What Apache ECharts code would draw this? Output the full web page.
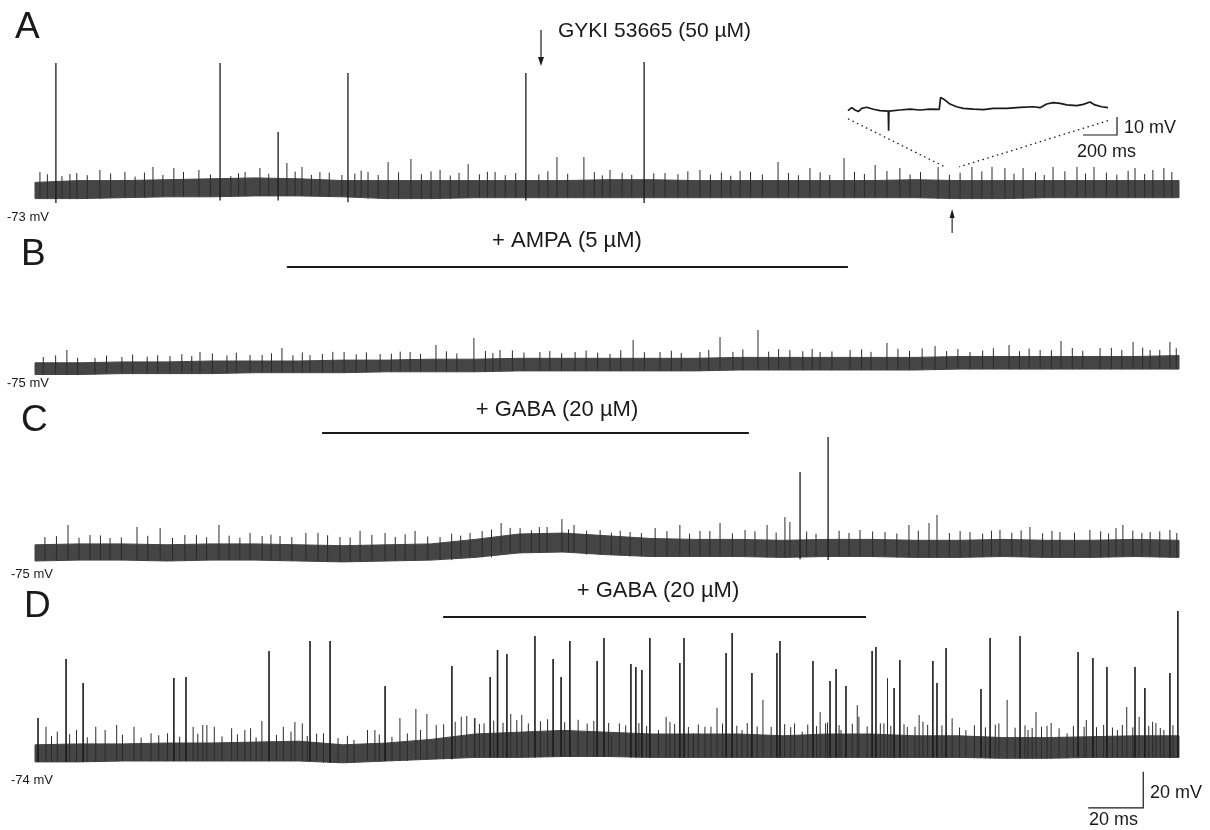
<!DOCTYPE html>
<html>
<head>
<meta charset="utf-8">
<script src="https://cdn.jsdelivr.net/npm/echarts@6/dist/echarts.min.js"></script>
<style>html,body{margin:0;padding:0;background:#fff}#c{width:1210px;height:830px}</style>
</head>
<body>
<div id="c"></div>
<script>
// ---------------- DATA (time in ms, potential in mV) ----------------
// envelope sample times of the noisy baseline band
const envT = [0,16,32,48,64,80,96,112,128,144,160,176,192,208,224,240,256,272,288,304,320,336,352,368,384,400,416];

// Panel A (control, -73 mV)
const aHi = [-69,-68,-68,-67.5,-67,-66.5,-67,-68,-68,-68,-68,-68,-68,-67.5,-67.5,-68,-68,-68,-68,-68,-67.5,-68,-68,-68,-68,-68,-68];
const aLo = [-78,-78,-77.5,-77,-77,-76.5,-76.5,-77,-78,-78,-77.5,-77.5,-77.5,-77.5,-77.5,-77.5,-77.5,-77.5,-77.5,-77.5,-77.5,-78,-78,-77.5,-77.5,-77.5,-77.5];
const aPspT = [1.8,12.7,23.6,32.7,42.9,50.5,59.6,76.4,81.8,91.6,97.1,103.6,111.6,121.1,128.4,136.7,147.3,157.5,167.3,189.8,199.6,209.1,229.1,241.8,256.4,270.2,281.8,294.2,305.5,314.5,328.4,340.7,348,352.7,359.3,370.2,378.9,385.1,400,406.5,410.5];
const aPspV = [-63.2,-64.3,-62.1,-63.2,-60.4,-61,-62.1,-63.2,-61,-58.2,-60.4,-63.2,-64.9,-63.2,-57.7,-56,-62.1,-58.8,-63.2,-54.9,-54.9,-62.1,-63.8,-62.1,-62.7,-57.7,-61,-55.4,-59.3,-61,-60.4,-60.4,-60.4,-61,-61,-60.4,-60.4,-60.4,-61,-62.1,-61];
const aNoiseT = [4.5,9.8,15.2,19,27.5,36.4,39.8,46.5,54,63.8,71.2,74,85,94.6,100.5,107,116.3,118.6,124.8,132.2,140.5,144,151,154.2,161.6,164.5,171,174.8,183.2,186.5,193.7,203.4,206.3,213.5,217,225,233.8,237.4,245.6,249.6,253,260.2,264.5,274,277.6,285.5,289,298,301.6,309.8,318.2,322,332.5,336.4,344.3,356,363.8,367,374.5,382,389.6,393.4,397.5,403.5,413.4];
const aNoiseV = [-64.5,-65.5,-63.8,-65,-64,-65.8,-63.5,-64.8,-63.2,-64.6,-65.5,-63.9,-64.2,-63,-64.8,-63.6,-64.1,-62.5,-64.9,-63.4,-64.4,-62.9,-65.2,-63.7,-64.5,-63.1,-65,-63.8,-64.6,-62.8,-64.2,-63.3,-65.1,-63.6,-64.8,-63.9,-64.4,-62.9,-64.7,-63.5,-65.3,-63.2,-64.6,-63.7,-65,-63.4,-64.9,-63.1,-64.3,-62.7,-64.6,-63.3,-64.8,-63.6,-62.9,-64.2,-63.4,-64.9,-62.8,-64.1,-63.5,-64.7,-62.6,-64.3,-63.2];
const aApT = [7.6,67.3,88.4,113.8,178.5,221.5];
const aApPeak = [-2.7,-2.7,-41,-8.2,-8.2,-2.1];
const aApTrough = [-80.4,-79,-79,-80,-79,-80.4];

// Panel A inset (expanded segment, 0-1530 ms)
const insetT = [0,22,41,61,81,110,149,188,237,239,241,306,365,424,482,537,545,571,600,639,679,738,797,855,934,1012,1091,1130,1169,1208,1248,1287,1346,1385,1424,1453,1493,1530];
const insetV = [-71.5,-69.8,-71.1,-72,-70.2,-69.6,-70.7,-71.5,-71.7,-82.6,-71.7,-71.1,-70.6,-71.1,-70.6,-70.8,-64.1,-65.6,-67.8,-69.3,-70.2,-70.6,-70.9,-70.2,-70.2,-69.6,-69.3,-69.8,-67.8,-67,-67.4,-68.3,-68.7,-68,-66.7,-68.3,-69.3,-69.8];
const insetSrcT = 333.5;      // where the expanded segment sits on trace A
const gykiT = 184;            // GYKI 53665 application

// Panel B (+AMPA, -75 mV)
const bHi = [-71,-71,-70.5,-70.5,-70,-70,-70,-69.5,-69.5,-69,-69,-68.5,-68.5,-68.5,-68.5,-68.5,-68,-68,-68,-68,-68,-67.5,-67.5,-67.5,-67.5,-67.5,-67];
const bLo = [-77.5,-77.5,-77,-77,-77,-76.5,-76.5,-76.5,-76,-76,-76,-75.5,-75.5,-75.5,-75.5,-75.5,-75,-75,-75,-75,-75,-74.5,-74.5,-74.5,-74.5,-74.5,-74.5];
const bPspT = [11.6,21.8,31.6,49.1,60,78.2,89.8,100,112.4,125.5,136.4,145.8,159.6,169.1,183.6,196.4,209.1,217.5,227.3,241.8,249.1,262.9,274.5,285.5,296.4,309.8,327.3,340,354.2,365.5,373.1,387.3,399.3,405.5,412.7];
const bPspV = [-63.9,-68.3,-67.8,-67.2,-65,-66.7,-62.8,-66.7,-65,-66.1,-65,-61.1,-57.2,-63.9,-65,-65,-66.1,-58.3,-65,-65,-56.7,-52.8,-63.9,-65,-63.9,-60,-61.7,-65,-61.1,-63.9,-58.9,-62.8,-59.4,-63.9,-59.4];
const bNoiseT = [3,7.5,15.5,26,35.5,40.8,44.6,53.4,57,64.5,69.8,73.2,82.6,86,93.8,97.2,104.5,108.3,116.8,120.5,129.6,132.8,140.2,149.6,153.4,163.8,166.5,173.6,177.8,187.2,191.5,200.4,204.6,213,221.6,231.4,235,245,253.8,257.4,266.8,270.4,279.2,282.6,289.8,300.6,304,313.8,318,322.6,331.5,335.6,344.6,348.5,358,361.5,369.6,377.2,381,391.4,395.2,402.8,409,415];
const bNoiseV = [-67.8,-66.9,-68.2,-67,-66.4,-67.6,-66.8,-66.2,-67.3,-65.8,-66.9,-65.4,-66.6,-65.7,-66.8,-65.3,-66.1,-64.9,-66.3,-65.2,-65.9,-64.8,-66,-64.6,-65.8,-64.4,-65.6,-64.1,-65.3,-64.5,-65.7,-64.2,-65.4,-64,-65.1,-64.3,-65.5,-63.8,-64.9,-63.6,-64.8,-63.4,-64.6,-63.3,-64.7,-63.5,-64.9,-63.2,-64.4,-63,-64.5,-63.3,-64.2,-62.9,-64.6,-63.1,-64,-62.8,-64.3,-62.7,-63.9,-62.6,-63.8,-62.9];

// Panel C (+GABA, -75 mV)
const cHi = [-71,-70.5,-70.5,-71,-70.5,-70.5,-71,-71.5,-71,-70.5,-68,-65,-64.5,-66,-67.5,-68,-68,-68.5,-68,-68,-68.5,-68.5,-68,-68.5,-68.5,-68,-68.5];
const cLo = [-80,-79.5,-79.5,-80,-79.5,-79.5,-80,-80.5,-80,-79.5,-78,-75.5,-75,-76.5,-77.5,-77.5,-77.5,-78,-77.5,-77.5,-78,-78,-77.5,-78,-78,-77.5,-78];
const cPspT = [3.6,12,20,27.3,37.1,45.5,54.5,66.9,78.2,89.1,98.5,102.9,110.9,118.2,127.3,138.2,147.3,158.2,169.5,176.4,186.2,191.6,196,205.5,216.4,225.5,234.5,241.8,249.1,258.2,266.2,272.7,274.5,300,309.1,317.8,325.1,328,340,350.9,361.8,372.7,383.6,393.1,395.6,405.5,412.7];
const cPspV = [-66.7,-60,-65.6,-67.2,-61.1,-61.7,-65.6,-60,-64.4,-66.1,-64.4,-64.4,-66.7,-63.3,-64.4,-63.3,-66.7,-64.4,-58.9,-61.7,-61.1,-56.7,-60,-62.8,-63.9,-61.7,-60,-63.3,-58.9,-62.8,-60,-55.6,-58.3,-62.8,-63.9,-60,-58.9,-54.4,-63.9,-62.8,-61.1,-63.9,-62.8,-61.7,-60,-63.9,-62.8];
const cNoiseT = [7.8,16,23.8,31.4,41,50,58.7,62.4,70.6,74.5,82.6,85.8,93.4,106.4,114.6,122.5,131,134.6,142.8,151.5,154.8,162.6,166,172.8,180.5,183.4,194,200.6,209.6,212.8,220.5,229.8,238,245.4,253.6,261.8,269.5,280.6,284,292.4,296,304.6,313.4,321.2,332.5,336.4,344.6,347.8,355.2,358.6,366.4,369.8,378,387.5,390.4,399.2,402.5,409,415.2];
const cNoiseV = [-66.2,-67.1,-65.8,-66.9,-66,-67.2,-65.6,-66.8,-65.9,-67,-66.1,-65.4,-66.7,-65.7,-66.9,-65.5,-66.6,-65.2,-66.4,-64.8,-65.9,-63.4,-62.5,-61.6,-62.9,-61.2,-62.4,-63.1,-64.3,-63.2,-64.5,-63.4,-64.8,-63.3,-64.6,-63.5,-64.2,-63.7,-64.9,-63.2,-64.4,-63.6,-64.7,-63.1,-64.5,-63.4,-64.8,-63.2,-64.3,-63,-64.6,-63.3,-64.2,-63.5,-64.7,-63.1,-64.4,-63.6,-64.5];
const cApT = [278.2,288.4];
const cApPeak = [-30.6,-11.1];
const cApTrough = [-79,-79.5];

// Panel D (+GABA, -74 mV)
const dHi = [-70,-69.5,-69.5,-69,-69,-68.5,-68,-70,-69,-67,-64,-63,-62,-63,-64,-64,-64,-65,-64,-64,-65,-65,-66,-66,-65.5,-65,-65];
const dLo = [-79.5,-79.5,-79,-79,-79,-79,-79,-80,-79,-78,-77,-77,-76.5,-76.5,-77,-77,-77,-77,-77,-77,-77,-77,-77.5,-77.5,-77,-77,-77];
const dPspT = [4,8.1,15.1,22.1,25.5,29.7,36,42.2,48.2,57.5,61,62.5,65.2,71.5,76.3,78.4,82.5,90.3,93.1,94.5,97.2,104.9,116,120.9,123.6,132.7,138.5,142.5,145.9,155,157,159.8,160,163.3,173,177,209.7,212.5,226.7,229.5,230.9,239.4,243.6,248,257.1,264.7,267.7,276.2,279,285.5,287.5,293.1,299,299.6,308.7,310,317.2,321.5,322.9,333.5,338.5,350.5,353.5,361.1,364,366,369.5,375.3,381.5,382.3,393.6,397,401.5,406.4,407.6,410.5];
const dPspV = [-60,-62.7,-61.8,-60,-61.8,-59,-60,-63.6,-63.6,-60,-59,-59,-60,-60.8,-61.8,-60.8,-56.7,-60,-62.7,-57.3,-58.1,-63.6,-67.3,-61.8,-61.8,-55.1,-50.1,-52.9,-59,-54.4,-54,-55.3,-55.1,-58.1,-52.9,-53.5,-65.5,-58.1,-61.8,-54.5,-57.2,-63.6,-60,-49.5,-61.8,-45,-60,-58.1,-62.7,-51.8,-58.1,-61.8,-48,-54.4,-58.1,-33,-60,-53.5,-57.2,-55.3,-61.8,-58.1,-45,-61.8,-51.8,-60,-57.9,-63.6,-60,-56.2,-61.8,-49,-54.5,-57.2,-57.9,-61.8];
const dNoiseT = [6,12.6,19,31.8,38.6,45,52.6,59.2,68,73.6,80.4,87.8,99,102.4,110.2,113.6,125.2,129.8,135.4,140.2,148.6,152.8,161.6,166.8,170.2,175.2,179.4,183.8,186.4,192.6,197.5,200.8,203.2,208.6,214.8,219.6,222.4,232.6,237.6,241.2,245.8,250,255.2,259,262.6,272.6,274.8,281,284.2,288.2,292.4,297.2,302.6,307.4,311.2,316,320,324.6,329.8,336.2,341.6,345.6,349.2,356.4,360,362.6,368,372.4,377.6,386,388.6,391.8,395.4,399.2,405,409.2,413.8];
const dNoiseV = [-65.2,-64.1,-65.8,-64.4,-66,-64.7,-65.5,-63.9,-65.3,-64.2,-65.9,-64.5,-65.1,-63.8,-66.2,-65,-64.3,-65.6,-63.7,-61.8,-58.6,-57.2,-58.4,-56.6,-57.8,-56.2,-58.1,-56.9,-55.8,-57.4,-56.1,-58.2,-56.7,-57.9,-59.2,-58,-59.6,-58.4,-60.1,-58.7,-59.9,-58.2,-59.4,-57.9,-59.8,-58.5,-60.2,-58.8,-59.6,-57.6,-59.1,-58.3,-59.7,-58.1,-59.5,-58.6,-60,-58.9,-59.3,-60.4,-59.1,-60.3,-58.8,-60.5,-59.2,-60.6,-59.4,-60.8,-59.6,-60.2,-58.9,-60.4,-59,-60.3,-59.5,-60.7,-59.1];
const dApT = [1.1,11.3,17.5,50.5,54.9,85.1,100,107.3,127.3,151.6,165.5,168.2,171.6,181.8,188.4,191.3,194.5,204.4,206.9,216.7,218.5,220.7,223.6,234.5,236,251.3,253.5,260.7,269.8,270.9,282.9,289.1,291.3,294.9,304.4,305.8,312.4,314.5,326.5,328,331.3,344,347.3,358.2,379.3,384.7,389.8,400,403.6,412.7,415.6];
const dApPeak = [-55.1,-22.3,-35.7,-32.9,-32.3,-17.9,-12.3,-12.3,-37.3,-26.2,-32.3,-17.3,-19.6,-9.6,-22.3,-32.3,-12.3,-23.4,-10.7,-25.1,-26.8,-28.4,-10.7,-24.6,-10.7,-19,-7.9,-30.1,-19,-12.3,-23.4,-34.6,-27.9,-37.3,-17.9,-15.7,-38.4,-22.9,-23.4,-35.7,-16.2,-39,-10.7,-9.6,-18.4,-21.8,-26.8,-26.8,-38.4,-30.1,4.3];

// drug applications (ms) and labels
const drugPanels = ['B','C','D'];
const drugLabels = ['+ AMPA (5 \u00b5M)','+ GABA (20 \u00b5M)','+ GABA (20 \u00b5M)'];
const drugStart = [91.6,104.4,148.4];
const drugEnd = [295.6,259.6,302.2];

const restLabels = ['-73 mV','-75 mV','-75 mV','-74 mV'];
const panelLetters = ['A','B','C','D'];

// scale bars
const insetBar = {t0:1383, t1:1583, v0:-85, v1:-75, tLabel:'200 ms', vLabel:'10 mV'};
const mainBar = {t0:383, t1:403, v0:-105, v1:-85, tLabel:'20 ms', vLabel:'20 mV'};

// ---------------- LAYOUT / STYLE ----------------
const FONT = '"Liberation Sans", Arial, sans-serif';
const BAND = '#454545';
const TICK = '#2b2b2b';
const INK = '#1a1a1a';
const PXMV = 1.8;                 // px per mV (from the 20 mV bar)
const LEFT = 35, WIDTH = 1144;
const yRanges = [[-86,4],[-88,-60],[-86,-50],[-86,-10],[-86,10]];
const tops = [51, 90, 325, 435, 600.8];
const grids = [
  {left:LEFT, top:tops[0], width:WIDTH, height:(yRanges[0][1]-yRanges[0][0])*PXMV},
  {left:848, top:tops[1], width:260, height:(yRanges[1][1]-yRanges[1][0])*PXMV},
  {left:LEFT, top:tops[2], width:WIDTH, height:(yRanges[2][1]-yRanges[2][0])*PXMV},
  {left:LEFT, top:tops[3], width:WIDTH, height:(yRanges[3][1]-yRanges[3][0])*PXMV},
  {left:LEFT, top:tops[4], width:WIDTH, height:(yRanges[4][1]-yRanges[4][0])*PXMV}
].map(g => Object.assign(g, {outerBoundsMode:'none', containLabel:false, show:false}));

const xAxes = grids.map((g,i) => ({type:'value', gridIndex:i, min:0, max: i===1 ? 1530 : 416, show:false}));
const yAxes = grids.map((g,i) => ({type:'value', gridIndex:i, min:yRanges[i][0], max:yRanges[i][1], show:false}));

function nearest(t){
  let best = 0;
  for (let i=1;i<envT.length;i++) if (Math.abs(envT[i]-t) < Math.abs(envT[best]-t)) best = i;
  return best;
}

function bandSeries(g, hi, lo){
  return {type:'custom', xAxisIndex:g, yAxisIndex:g, silent:true, clip:false, z:2,
    data: envT.map((t,i)=>[t, hi[i], lo[i]]),
    renderItem(params, api){
      if (params.dataIndex !== 0) return null;
      const pts = [];
      envT.forEach((t,i)=>pts.push(api.coord([t, hi[i]])));
      for (let i=envT.length-1;i>=0;i--) pts.push(api.coord([envT[i], lo[i]]));
      return {type:'polygon', shape:{points:pts}, style:{fill:BAND, stroke:BAND, lineWidth:1}};
    }};
}

function tickSeries(g, ts, vs, baseFn, width, color, z){
  const n = Math.min(ts.length, vs.length);
  return {type:'custom', xAxisIndex:g, yAxisIndex:g, silent:true, clip:false, z:z,
    data: ts.slice(0,n).map((t,i)=>[t, vs[i]]),
    renderItem(params, api){
      const t = api.value(0), v = api.value(1);
      const b = baseFn(params.dataIndex, t);
      const p0 = api.coord([t, b]), p1 = api.coord([t, v]);
      return {type:'line', shape:{x1:p0[0], y1:p0[1], x2:p1[0], y2:p1[1]},
              style:{stroke:color, lineWidth:width}};
    }};
}

const loOf = lo => (i,t) => lo[nearest(t)];
const series = [
  bandSeries(0, aHi, aLo),
  tickSeries(0, aNoiseT, aNoiseV, loOf(aLo), 1, TICK, 3),
  tickSeries(0, aPspT, aPspV, loOf(aLo), 1, TICK, 3),
  tickSeries(0, aApT, aApPeak, (i)=>aApTrough[i], 1.3, INK, 4),
  {type:'line', xAxisIndex:1, yAxisIndex:1, data: insetT.map((t,i)=>[t, insetV[i]]),
   showSymbol:false, symbol:'none', silent:true, lineStyle:{color:INK, width:1.7}, z:4},
  bandSeries(2, bHi, bLo),
  tickSeries(2, bNoiseT, bNoiseV, loOf(bLo), 1, TICK, 3),
  tickSeries(2, bPspT, bPspV, loOf(bLo), 1, TICK, 3),
  bandSeries(3, cHi, cLo),
  tickSeries(3, cNoiseT, cNoiseV, loOf(cLo), 1, TICK, 3),
  tickSeries(3, cPspT, cPspV, loOf(cLo), 1, TICK, 3),
  tickSeries(3, cApT, cApPeak, (i)=>cApTrough[i], 1.3, INK, 4),
  bandSeries(4, dHi, dLo),
  tickSeries(4, dNoiseT, dNoiseV, loOf(dLo), 1, TICK, 3),
  tickSeries(4, dPspT, dPspV, loOf(dLo), 1, TICK, 3),
  tickSeries(4, dApT, dApPeak, loOf(dLo), 1.6, INK, 4)
];

const chart = echarts.init(document.getElementById('c'), null, {renderer:'canvas'});
chart.setOption({
  animation:false, backgroundColor:'#fff',
  grid:grids, xAxis:xAxes, yAxis:yAxes, series:series
});

// ---------------- ANNOTATIONS ----------------
const P = (g, t, v) => chart.convertToPixel({gridIndex:g}, [t, v]);
const G = [];
function txt(x, y, s, size, align){
  G.push({type:'text', x:x, y:y, silent:true, z:10,
    style:{text:s, fill:INK, font:size+'px '+FONT, textAlign:align||'left', textVerticalAlign:'middle', verticalAlign:'middle'}});
}
function seg(pts, w, dash){
  G.push({type:'polyline', silent:true, z:10, shape:{points:pts},
    style:{stroke:INK, lineWidth:w, fill:null, lineDash:dash||null}});
}
function tri(pts){
  G.push({type:'polygon', silent:true, z:10, shape:{points:pts}, style:{fill:INK}});
}

// panel letters
const letterPos = [[15,28],[21,255],[21,421],[24,607]];
panelLetters.forEach((s,i)=>txt(letterPos[i][0], letterPos[i][1], s, 37));

// resting potential labels
const restPos = [[7,217],[7,383],[11,574],[11,780]];
restLabels.forEach((s,i)=>txt(restPos[i][0], restPos[i][1], s, 13));

// GYKI arrow + label
const gx = P(0, gykiT, 0)[0];
seg([[gx,30],[gx,60]], 1.2);
tri([[gx-3,57],[gx+3,57],[gx,66]]);
txt(gx+17, 31, 'GYKI 53665 (50 \u00b5M)', 21);

// inset link: dotted lines and up arrow
const il = P(1, 0, -76), ir = P(1, 1530, -77);
const bl = P(0, insetSrcT-2.6, -60.4), br = P(0, insetSrcT+2.6, -60.4);
seg([il, bl], 1.3, [1.5,3.5]);
seg([ir, br], 1.3, [1.5,3.5]);
const ax = P(0, insetSrcT, 0)[0];
seg([[ax,233],[ax,214]], 1.1);
tri([[ax-2.5,218],[ax+2.5,218],[ax,209]]);

// inset scale bar
seg([P(1,insetBar.t0,insetBar.v0), P(1,insetBar.t1,insetBar.v0), P(1,insetBar.t1,insetBar.v1)], 1.2);
txt(1124, 128, insetBar.vLabel, 18);
txt(1077, 152, insetBar.tLabel, 18);

// main scale bar (panel D)
seg([P(4,mainBar.t0,mainBar.v0), P(4,mainBar.t1,mainBar.v0), P(4,mainBar.t1,mainBar.v1)], 1.2);
txt(1150, 793, mainBar.vLabel, 18);
txt(1089, 820, mainBar.tLabel, 18);

// drug application bars
const drugGrid = [2,3,4];
const barY = [267, 433, 617];
const labelPos = [[567,241],[557,410],[658,591]];
drugPanels.forEach((p,i)=>{
  const x0 = P(drugGrid[i], drugStart[i], 0)[0], x1 = P(drugGrid[i], drugEnd[i], 0)[0];
  seg([[x0,barY[i]],[x1,barY[i]]], 1.8);
  txt(labelPos[i][0], labelPos[i][1], drugLabels[i], 22, 'center');
});

chart.setOption({graphic:G});
</script>
</body>
</html>
